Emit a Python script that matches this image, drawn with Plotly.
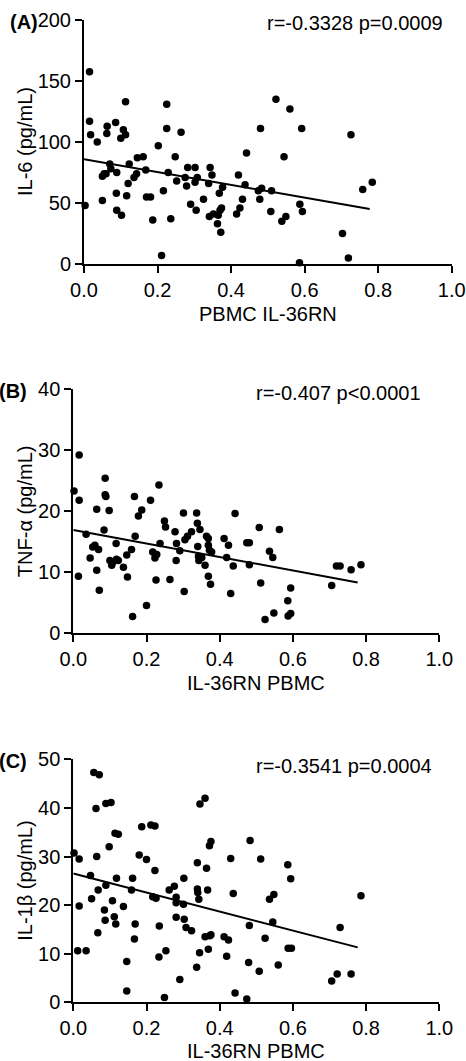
"""
IL-36RN in PBMC against serum IL-6, TNF-a and IL-1b, three scatter panels
with a linear fit line each.
"""

import plotly.graph_objects as go

# panel A: PBMC IL-36RN vs IL-6 (pg/mL)
a_x = [0.003, 0.015, 0.015, 0.018, 0.036, 0.05, 0.055, 0.05, 0.063, 0.062,
       0.07, 0.073, 0.06, 0.086, 0.089, 0.088, 0.089, 0.102, 0.1, 0.107,
       0.113, 0.113, 0.116, 0.12, 0.123, 0.136, 0.143, 0.145, 0.161, 0.168,
       0.17, 0.181, 0.187, 0.202, 0.216, 0.211, 0.225, 0.225, 0.229, 0.236,
       0.248, 0.252, 0.264, 0.279, 0.282, 0.275, 0.29, 0.302, 0.305, 0.302,
       0.308, 0.325, 0.341, 0.339, 0.343, 0.348, 0.352, 0.363, 0.365, 0.368,
       0.37, 0.372, 0.377, 0.374, 0.415, 0.424, 0.42, 0.431, 0.438, 0.442,
       0.474, 0.48, 0.478, 0.483, 0.508, 0.51, 0.522, 0.538, 0.549, 0.544,
       0.56, 0.586, 0.587, 0.594, 0.592, 0.703, 0.719, 0.726, 0.758, 0.784]
a_y = [48, 157.5, 117, 106, 100, 72, 74, 52, 113, 107,
       82, 78, 74, 116, 75, 58, 44, 40, 103, 110,
       133, 106, 56, 66, 82, 71, 74, 87, 88, 77,
       55, 55, 36, 97, 60, 7, 131, 111, 75, 37,
       88, 68, 108, 64, 79, 71, 49, 79, 44, 67,
       71, 53, 39, 66, 79, 73, 41, 33, 40, 58,
       44, 26, 63, 46, 41, 46, 73, 53, 65, 91,
       60, 111, 53, 62, 43, 60, 135, 35, 39, 88,
       127, 1, 49, 43, 111, 25, 5, 106, 61, 67]

# panel B: IL-36RN PBMC vs TNF-a (pg/mL)
b_x = [0.002, 0.016, 0.016, 0.014, 0.035, 0.046, 0.053, 0.059, 0.064, 0.064,
       0.069, 0.071, 0.084, 0.087, 0.087, 0.089, 0.098, 0.1, 0.105, 0.109,
       0.117, 0.118, 0.123, 0.137, 0.146, 0.148, 0.159, 0.162, 0.167, 0.169,
       0.178, 0.187, 0.2, 0.211, 0.217, 0.223, 0.226, 0.228, 0.234, 0.237,
       0.249, 0.252, 0.264, 0.278, 0.281, 0.282, 0.291, 0.301, 0.303, 0.305,
       0.312, 0.323, 0.337, 0.339, 0.34, 0.342, 0.343, 0.346, 0.351, 0.36,
       0.364, 0.369, 0.369, 0.369, 0.372, 0.375, 0.378, 0.412, 0.424, 0.419,
       0.43, 0.437, 0.442, 0.474, 0.481, 0.481, 0.508, 0.512, 0.524, 0.536,
       0.545, 0.548, 0.563, 0.586, 0.587, 0.594, 0.594, 0.706, 0.719, 0.729,
       0.759, 0.786]
b_y = [23.3, 29.2, 21.8, 9.3, 16.2, 12.3, 14.1, 14.4, 20.3, 10.3,
       13.7, 7.0, 16.9, 25.4, 22.7, 22.4, 20.1, 11.9, 11.1, 11.7,
       14.7, 12.1, 11.9, 10.8, 12.8, 9.2, 13.7, 2.7, 22.4, 15.9,
       19.2, 20.2, 4.5, 21.8, 13.3, 12.3, 8.7, 12.9, 24.3, 14.7,
       18.4, 17.4, 8.8, 16.6, 11.9, 14.7, 13.5, 19.7, 6.8, 15.3,
       15.9, 16.6, 19.7, 18.0, 14.2, 12.6, 11.9, 17.0, 12.4, 11.1,
       15.9, 15.5, 14.4, 9.3, 13.6, 8.0, 13.3, 15.5, 14.4, 12.4,
       6.5, 11.0, 19.6, 14.8, 14.8, 11.2, 17.3, 8.2, 2.2, 13.4,
       12.4, 3.3, 17.0, 5.3, 2.8, 7.4, 3.2, 7.8, 11.0, 11.0,
       10.4, 11.2]

# panel C: IL-36RN PBMC vs IL-1b (pg/mL)
c_x = [0.002, 0.016, 0.016, 0.012, 0.035, 0.047, 0.05, 0.056, 0.071, 0.062,
       0.064, 0.067, 0.068, 0.085, 0.087, 0.089, 0.089, 0.103, 0.098, 0.107,
       0.112, 0.116, 0.114, 0.123, 0.118, 0.137, 0.146, 0.146, 0.159, 0.162,
       0.169, 0.167, 0.18, 0.187, 0.2, 0.212, 0.223, 0.223, 0.217, 0.226,
       0.235, 0.234, 0.249, 0.253, 0.262, 0.276, 0.281, 0.281, 0.281, 0.291,
       0.301, 0.302, 0.303, 0.308, 0.323, 0.337, 0.339, 0.339, 0.34, 0.343,
       0.345, 0.346, 0.36, 0.36, 0.364, 0.367, 0.369, 0.372, 0.373, 0.376,
       0.376, 0.412, 0.424, 0.419, 0.43, 0.437, 0.442, 0.474, 0.479, 0.481,
       0.483, 0.508, 0.512, 0.524, 0.536, 0.548, 0.545, 0.56, 0.586, 0.594,
       0.587, 0.596, 0.706, 0.721, 0.729, 0.759, 0.786]
c_y = [30.7, 29.5, 19.8, 10.6, 10.6, 26.1, 21.3, 47.3, 46.8, 39.9,
       30.0, 14.3, 23.1, 19.0, 16.9, 24.1, 40.9, 41.1, 32.0, 20.9,
       17.6, 16.1, 34.8, 34.6, 25.5, 19.7, 8.4, 2.3, 23.1, 25.5,
       16.1, 13.0, 30.3, 36.1, 29.4, 36.5, 36.3, 27.1, 21.7, 21.4,
       15.7, 9.3, 1.0, 10.6, 23.1, 23.9, 21.6, 20.5, 17.5, 4.7,
       20.2, 25.5, 17.1, 15.4, 14.7, 7.2, 28.7, 23.3, 22.6, 21.2,
       10.2, 40.8, 42.0, 13.5, 27.6, 23.1, 10.9, 32.2, 13.7, 33.1,
       13.9, 13.5, 12.8, 9.5, 29.6, 22.4, 1.9, 0.7, 8.2, 15.8,
       33.3, 6.4, 29.5, 13.2, 21.2, 22.2, 16.5, 7.7, 28.3, 25.4,
       11.1, 11.1, 4.4, 5.8, 15.4, 5.8, 21.9]

# linear fits as drawn: intercept, slope, end of line
fit_a = [85.8, -52.3, 0.777]
fit_b = [16.9, -11.07, 0.777]
fit_c = [26.5, -19.56, 0.777]

labels = ["(A)", "(B)", "(C)"]
stats = ["r=-0.3328 p=0.0009", "r=-0.407 p<0.0001", "r=-0.3541 p=0.0004"]
x_titles = ["PBMC IL-36RN", "IL-36RN PBMC", "IL-36RN PBMC"]
y_titles = ["IL-6 (pg/mL)", "TNF-α (pg/mL)", "IL-1β (pg/mL)"]
y_max = [200, 40, 50]
y_step = [50, 10, 10]

W, H = 466, 1061
FONT = "Liberation Sans, Arial, sans-serif"
# plot area in pixels: left, right, top, bottom
boxes = [(84, 451.7, 20, 264), (73.3, 439.3, 389.3, 633), (73.3, 439.3, 759.3, 1002.3)]
title_gap = [50, 50, 49]
stat_gap = [3, 4, 7]

fig = go.Figure()
layout = {}
panels = [(a_x, a_y, fit_a), (b_x, b_y, fit_b), (c_x, c_y, fit_c)]
for i, (xs, ys, fit) in enumerate(panels):
    n = "" if i == 0 else str(i + 1)
    xa, ya = "x" + n, "y" + n
    fig.add_trace(go.Scatter(
        x=xs, y=ys, mode="markers", xaxis=xa, yaxis=ya,
        marker=dict(color="black", size=7.5), cliponaxis=False,
    ))
    x_end = fit[2]
    fig.add_trace(go.Scatter(
        x=[0, x_end], y=[fit[0], fit[0] + fit[1] * x_end], mode="lines",
        xaxis=xa, yaxis=ya, line=dict(color="black", width=2),
    ))
    l, r, t, b = boxes[i]
    common = dict(
        showline=True, linecolor="black", linewidth=2, ticks="outside",
        ticklen=7, tickwidth=2, tickcolor="black", showgrid=False,
        zeroline=False, automargin=False,
        tickfont=dict(size=20, color="black", family=FONT),
    )
    layout["xaxis" + n] = dict(
        domain=[l / W, r / W], anchor=ya, range=[0, 1], dtick=0.2,
        tickformat=".1f", **common,
    )
    layout["yaxis" + n] = dict(
        domain=[1 - b / H, 1 - t / H], anchor=xa, range=[0, y_max[i]],
        dtick=y_step[i], **common,
    )
    # axis titles
    fig.add_annotation(
        text=x_titles[i], xref="paper", yref="paper", x=(l + r) / 2 / W,
        y=1 - (b + title_gap[i]) / H, showarrow=False, xanchor="center",
        yanchor="middle", font=dict(size=20, color="black", family=FONT),
    )
    fig.add_annotation(
        text=y_titles[i], xref="paper", yref="paper", x=25 / W,
        y=1 - (t + b) / 2 / H, showarrow=False, textangle=-90,
        xanchor="center", yanchor="middle",
        font=dict(size=20, color="black", family=FONT),
    )
    fig.add_annotation(
        text="<b>" + labels[i] + "</b>", xref="paper", yref="paper",
        x=(l - 44) / W, y=1 - (t + 2) / H, showarrow=False,
        xanchor="right", yanchor="middle",
        font=dict(size=20, color="black", family=FONT),
    )
    fig.add_annotation(
        text=stats[i], xref="paper", yref="paper", x=(l + 181) / W,
        y=1 - (t + stat_gap[i]) / H, showarrow=False, xanchor="left",
        yanchor="middle", font=dict(size=20, color="black", family=FONT),
    )

fig.update_layout(
    **layout,
    width=W, height=H, margin=dict(l=0, r=0, t=0, b=0),
    showlegend=False, plot_bgcolor="white", paper_bgcolor="white",
    font=dict(family=FONT, color="black"),
)
# the page's default body margin would shift the figure by 8px
fig.write_html(
    "out.html",
    config={"displayModeBar": False},
    post_script="document.body.style.margin = '0';",
)
